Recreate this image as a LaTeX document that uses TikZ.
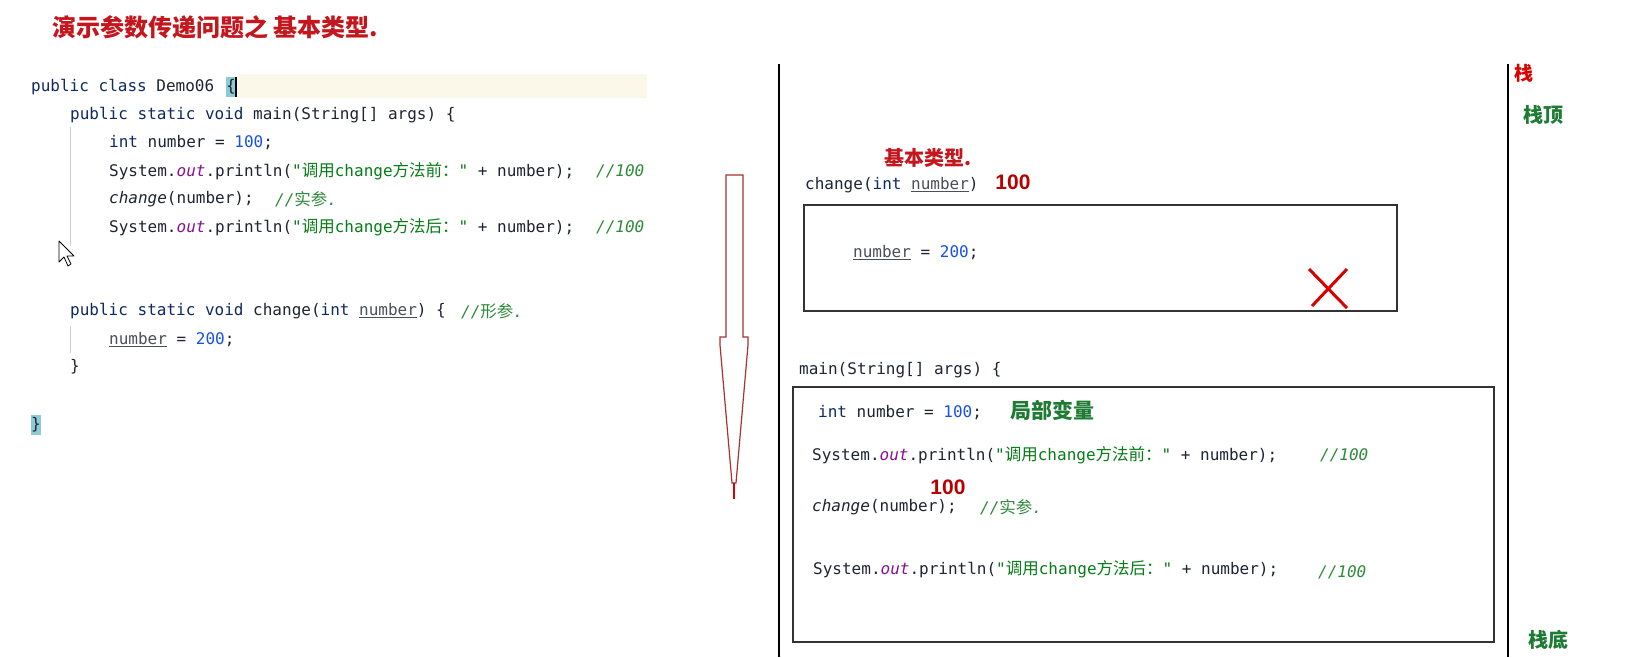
\documentclass[tikz,border=0pt]{standalone}
\usepackage{fontspec}
\usepackage{xcolor}
\usetikzlibrary{positioning}
\setmonofont{DejaVu Sans Mono}
\newfontfamily\cjk{Noto Sans CJK SC}
\newfontfamily\numfont{Liberation Sans}
\definecolor{Ink}{HTML}{1F2433}
\definecolor{Kw}{HTML}{0F2A63}
\definecolor{Num}{HTML}{1750EB}
\definecolor{Str}{HTML}{067D17}
\definecolor{Cmt}{HTML}{2F8A3A}
\definecolor{Fld}{HTML}{871094}
\definecolor{Param}{HTML}{4A4F5A}
\definecolor{Title}{HTML}{C4161C}
\definecolor{Note}{HTML}{1E7B34}
\definecolor{Mark}{HTML}{B80000}
\definecolor{Caret}{HTML}{8CCBD3}
\definecolor{LineHi}{HTML}{FBF8EA}
\definecolor{Frame}{HTML}{333333}
\definecolor{Guide}{HTML}{D0D0D0}
\definecolor{ArrowRed}{HTML}{A83232}
\newcommand{\zh}[1]{{\cjk\fontsize{16.5}{19}\selectfont #1}}
\newcommand{\kw}[1]{\textcolor{Kw}{#1}}
\newcommand{\nm}[1]{\textcolor{Num}{#1}}
\newcommand{\prm}{\textcolor{Param}{\underline{number}}}
\newcommand{\outf}{\textcolor{Fld}{\itshape out}}
\newcommand{\str}[1]{\textcolor{Str}{#1}}

\begin{document}
\begin{tikzpicture}[x=1pt, y=-1pt,
    code/.style={anchor=west, inner sep=0pt, yshift=-2pt, text=Ink, font=\ttfamily\fontsize{16}{19}\selectfont},
    cmt/.style={code, text=Cmt, font=\ttfamily\itshape\fontsize{16}{19}\selectfont},
    zhred/.style={inner sep=0pt, text=Title, font=\cjk\bfseries\fontsize{20}{24}\selectfont},
    zhgreen/.style={inner sep=0pt, text=Note, font=\cjk\bfseries\fontsize{20}{24}\selectfont},
    val/.style={inner sep=0pt, text=Mark, font=\numfont\bfseries\fontsize{21}{24}\selectfont},
    frame/.style={draw=Frame, line width=1.4pt}]
  \useasboundingbox (0,0) rectangle (1627,657);
  \fill[white] (0,0) rectangle (1627,657);

  % title
  \node[zhred, anchor=west, font=\cjk\bfseries\fontsize{24}{28}\selectfont] (title) at (52,27) {演示参数传递问题之 基本类型.};

  % source code
  \fill[LineHi] (238,74) rectangle (647,98);
  \node[code] (cls) at (31,85) {\kw{public class} Demo06};
  \node[code, fill=Caret, minimum height=20pt] (obrace) at (226,85) {\{};
  \draw[black, line width=1.6pt] (obrace.north east) -- (obrace.south east);
  \node[code] (mainsig) at (70,113) {\kw{public static void} main(String[] args) \{};
  \node[code] (decl) at (109,141) {\kw{int} number = \nm{100};};
  \node[code] (pre) at (109,169) {System.\outf.println(\str{"\zh{调用}change\zh{方法前：}"} + number);};
  \node[cmt] (precmt) at (596,169) {//100};
  \node[code] (call) at (109,197) {{\itshape change}(number);};
  \node[cmt] (callcmt) at (275,197) {//\zh{实参}.};
  \node[code] (post) at (109,225) {System.\outf.println(\str{"\zh{调用}change\zh{方法后：}"} + number);};
  \node[cmt] (postcmt) at (596,225) {//100};
  \draw[Guide] (70,127) -- (70,246);

  \node[code] (chgsig) at (70,309) {\kw{public static void} change(\kw{int} \prm) \{};
  \node[cmt] (chgcmt) at (461,309) {//\zh{形参}.};
  \node[code] (assign) at (109,338) {\prm{} = \nm{200};};
  \node[code] (chgend) at (70,365) {\}};
  \draw[Guide] (70,326) -- (70,353);
  \node[code, fill=Caret, minimum height=20pt] (clsend) at (31,423) {\}};

  % mouse pointer
  \draw[black, fill=white, line width=0.8pt, line join=round]
    (59,241) -- (59,262) -- (64,257) -- (68,266) -- (71,264) -- (67,256) -- (74,256) -- cycle;

  % call direction
  \draw[ArrowRed, line width=1.2pt, line join=miter]
    (726,175) -- (743,175) -- (743,337) -- (748,337) -- (748,345) -- (736,483)
    -- (732,483) -- (720,345) -- (720,337) -- (726,337) -- cycle;
  \draw[red!85!black, line width=2pt] (734,483) -- (734,499);

  % stack
  \draw[black, line width=1.5pt] (779,64) -- (779,657);
  \draw[black, line width=1.5pt] (1508,64) -- (1508,657);
  \node[zhred, font=\cjk\bfseries\fontsize{19}{22}\selectfont, text=red!85!black] (stack) at (1524,73) {栈};
  \node[zhgreen] (top) at (1543,115) {栈顶};
  \node[zhgreen] (bottom) at (1548,640) {栈底};

  % frame of change
  \node[zhred] (kind) at (928,158) {基本类型.};
  \node[code] (chgframe) at (805,183) {change(\kw{int} \prm)};
  \node[val] (argval) at (1013,182) {100};
  \draw[frame] (804,205) rectangle (1397,311);
  \node[code] (newval) at (853,251) {\prm{} = \nm{200};};
  \draw[red!85!black, line width=3pt] (1309,269) -- (1347,308);
  \draw[red!85!black, line width=3pt] (1347,269) -- (1312,306);

  % frame of main
  \node[code] (mainframe) at (799,368) {main(String[] args) \{};
  \draw[frame] (793,387) rectangle (1494,642);
  \node[code] (local) at (818,411) {\kw{int} number = \nm{100};};
  \node[zhgreen, font=\cjk\bfseries\fontsize{21}{24}\selectfont] (localnote) at (1052,410) {局部变量};
  \node[code] (mpre) at (812,453) {System.\outf.println(\str{"\zh{调用}change\zh{方法前：}"} + number);};
  \node[cmt] (mprecmt) at (1320,453) {//100};
  \node[val] (passval) at (948,487) {100};
  \node[code] (mcall) at (812,505) {{\itshape change}(number);};
  \node[cmt] (mcallcmt) at (980,505) {//\zh{实参}.};
  \node[code] (mpost) at (813,567) {System.\outf.println(\str{"\zh{调用}change\zh{方法后：}"} + number);};
  \node[cmt] (mpostcmt) at (1318,570) {//100};
\end{tikzpicture}
\end{document}
